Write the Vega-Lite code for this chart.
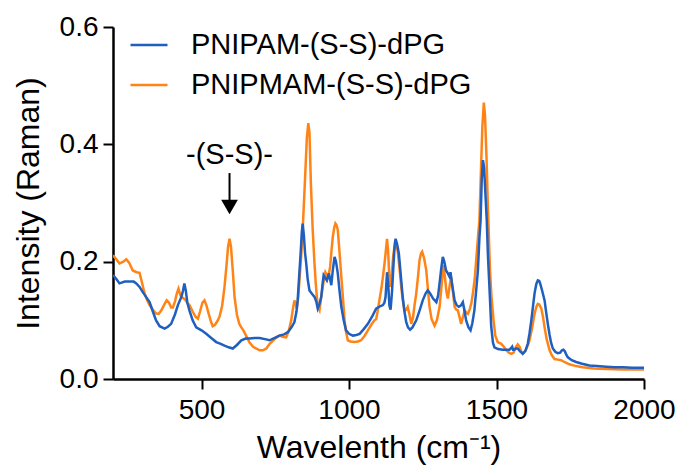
{
  "$schema": "https://vega.github.io/schema/vega-lite/v6.json",
  "width": 531,
  "height": 352,
  "autosize": {"type": "none"},
  "padding": {"left": 113, "top": 27, "right": 37, "bottom": 95},
  "background": "white",
  "config": {
    "view": {"stroke": null},
    "font": "Liberation Sans",
    "axis": {
      "grid": false,
      "domainColor": "black",
      "domainWidth": 2.5,
      "tickColor": "black",
      "tickWidth": 2,
      "tickSize": 10,
      "labelColor": "black",
      "titleColor": "black",
      "labelFont": "Liberation Sans",
      "titleFont": "Liberation Sans",
      "labelFontSize": 28,
      "titleFontSize": 32,
      "titleFontWeight": "normal",
      "labelFlush": false
    },
    "legend": {
      "labelFont": "Liberation Sans",
      "labelFontSize": 29,
      "labelColor": "black",
      "labelLimit": 0
    }
  },
  "datasets": {
    "spectra": [
      {"series": "PNIPMAM-(S-S)-dPG", "wavenumber": 200, "intensity": 0.211},
      {"series": "PNIPMAM-(S-S)-dPG", "wavenumber": 210, "intensity": 0.205},
      {"series": "PNIPMAM-(S-S)-dPG", "wavenumber": 222, "intensity": 0.197},
      {"series": "PNIPMAM-(S-S)-dPG", "wavenumber": 235, "intensity": 0.2},
      {"series": "PNIPMAM-(S-S)-dPG", "wavenumber": 245, "intensity": 0.204},
      {"series": "PNIPMAM-(S-S)-dPG", "wavenumber": 255, "intensity": 0.198},
      {"series": "PNIPMAM-(S-S)-dPG", "wavenumber": 267, "intensity": 0.185},
      {"series": "PNIPMAM-(S-S)-dPG", "wavenumber": 280, "intensity": 0.182},
      {"series": "PNIPMAM-(S-S)-dPG", "wavenumber": 290, "intensity": 0.181},
      {"series": "PNIPMAM-(S-S)-dPG", "wavenumber": 298, "intensity": 0.165},
      {"series": "PNIPMAM-(S-S)-dPG", "wavenumber": 307, "intensity": 0.146},
      {"series": "PNIPMAM-(S-S)-dPG", "wavenumber": 315, "intensity": 0.135},
      {"series": "PNIPMAM-(S-S)-dPG", "wavenumber": 324, "intensity": 0.126},
      {"series": "PNIPMAM-(S-S)-dPG", "wavenumber": 335, "intensity": 0.118},
      {"series": "PNIPMAM-(S-S)-dPG", "wavenumber": 345, "intensity": 0.112},
      {"series": "PNIPMAM-(S-S)-dPG", "wavenumber": 355, "intensity": 0.111},
      {"series": "PNIPMAM-(S-S)-dPG", "wavenumber": 365, "intensity": 0.118},
      {"series": "PNIPMAM-(S-S)-dPG", "wavenumber": 375, "intensity": 0.128},
      {"series": "PNIPMAM-(S-S)-dPG", "wavenumber": 382, "intensity": 0.134},
      {"series": "PNIPMAM-(S-S)-dPG", "wavenumber": 390, "intensity": 0.13},
      {"series": "PNIPMAM-(S-S)-dPG", "wavenumber": 397, "intensity": 0.122},
      {"series": "PNIPMAM-(S-S)-dPG", "wavenumber": 403, "intensity": 0.122},
      {"series": "PNIPMAM-(S-S)-dPG", "wavenumber": 410, "intensity": 0.132},
      {"series": "PNIPMAM-(S-S)-dPG", "wavenumber": 416, "intensity": 0.145},
      {"series": "PNIPMAM-(S-S)-dPG", "wavenumber": 422, "intensity": 0.154},
      {"series": "PNIPMAM-(S-S)-dPG", "wavenumber": 427, "intensity": 0.145},
      {"series": "PNIPMAM-(S-S)-dPG", "wavenumber": 431, "intensity": 0.14},
      {"series": "PNIPMAM-(S-S)-dPG", "wavenumber": 438, "intensity": 0.138},
      {"series": "PNIPMAM-(S-S)-dPG", "wavenumber": 445, "intensity": 0.135},
      {"series": "PNIPMAM-(S-S)-dPG", "wavenumber": 452, "intensity": 0.13},
      {"series": "PNIPMAM-(S-S)-dPG", "wavenumber": 459, "intensity": 0.126},
      {"series": "PNIPMAM-(S-S)-dPG", "wavenumber": 470, "intensity": 0.115},
      {"series": "PNIPMAM-(S-S)-dPG", "wavenumber": 480, "intensity": 0.106},
      {"series": "PNIPMAM-(S-S)-dPG", "wavenumber": 488, "intensity": 0.103},
      {"series": "PNIPMAM-(S-S)-dPG", "wavenumber": 495, "intensity": 0.115},
      {"series": "PNIPMAM-(S-S)-dPG", "wavenumber": 503, "intensity": 0.13},
      {"series": "PNIPMAM-(S-S)-dPG", "wavenumber": 510, "intensity": 0.134},
      {"series": "PNIPMAM-(S-S)-dPG", "wavenumber": 517, "intensity": 0.125},
      {"series": "PNIPMAM-(S-S)-dPG", "wavenumber": 525, "intensity": 0.11},
      {"series": "PNIPMAM-(S-S)-dPG", "wavenumber": 532, "intensity": 0.098},
      {"series": "PNIPMAM-(S-S)-dPG", "wavenumber": 538, "intensity": 0.09},
      {"series": "PNIPMAM-(S-S)-dPG", "wavenumber": 545, "intensity": 0.092},
      {"series": "PNIPMAM-(S-S)-dPG", "wavenumber": 553, "intensity": 0.098},
      {"series": "PNIPMAM-(S-S)-dPG", "wavenumber": 561, "intensity": 0.106},
      {"series": "PNIPMAM-(S-S)-dPG", "wavenumber": 570, "intensity": 0.125},
      {"series": "PNIPMAM-(S-S)-dPG", "wavenumber": 578, "intensity": 0.157},
      {"series": "PNIPMAM-(S-S)-dPG", "wavenumber": 585, "intensity": 0.195},
      {"series": "PNIPMAM-(S-S)-dPG", "wavenumber": 590, "intensity": 0.225},
      {"series": "PNIPMAM-(S-S)-dPG", "wavenumber": 595, "intensity": 0.239},
      {"series": "PNIPMAM-(S-S)-dPG", "wavenumber": 600, "intensity": 0.225},
      {"series": "PNIPMAM-(S-S)-dPG", "wavenumber": 606, "intensity": 0.185},
      {"series": "PNIPMAM-(S-S)-dPG", "wavenumber": 612, "intensity": 0.14},
      {"series": "PNIPMAM-(S-S)-dPG", "wavenumber": 620, "intensity": 0.11},
      {"series": "PNIPMAM-(S-S)-dPG", "wavenumber": 628, "intensity": 0.094},
      {"series": "PNIPMAM-(S-S)-dPG", "wavenumber": 635, "intensity": 0.088},
      {"series": "PNIPMAM-(S-S)-dPG", "wavenumber": 643, "intensity": 0.082},
      {"series": "PNIPMAM-(S-S)-dPG", "wavenumber": 651, "intensity": 0.074},
      {"series": "PNIPMAM-(S-S)-dPG", "wavenumber": 663, "intensity": 0.062},
      {"series": "PNIPMAM-(S-S)-dPG", "wavenumber": 675, "intensity": 0.055},
      {"series": "PNIPMAM-(S-S)-dPG", "wavenumber": 685, "intensity": 0.052},
      {"series": "PNIPMAM-(S-S)-dPG", "wavenumber": 697, "intensity": 0.049},
      {"series": "PNIPMAM-(S-S)-dPG", "wavenumber": 708, "intensity": 0.049},
      {"series": "PNIPMAM-(S-S)-dPG", "wavenumber": 720, "intensity": 0.052},
      {"series": "PNIPMAM-(S-S)-dPG", "wavenumber": 731, "intensity": 0.06},
      {"series": "PNIPMAM-(S-S)-dPG", "wavenumber": 748, "intensity": 0.068},
      {"series": "PNIPMAM-(S-S)-dPG", "wavenumber": 764, "intensity": 0.074},
      {"series": "PNIPMAM-(S-S)-dPG", "wavenumber": 775, "intensity": 0.072},
      {"series": "PNIPMAM-(S-S)-dPG", "wavenumber": 787, "intensity": 0.071},
      {"series": "PNIPMAM-(S-S)-dPG", "wavenumber": 796, "intensity": 0.082},
      {"series": "PNIPMAM-(S-S)-dPG", "wavenumber": 804, "intensity": 0.1},
      {"series": "PNIPMAM-(S-S)-dPG", "wavenumber": 810, "intensity": 0.12},
      {"series": "PNIPMAM-(S-S)-dPG", "wavenumber": 815, "intensity": 0.134},
      {"series": "PNIPMAM-(S-S)-dPG", "wavenumber": 819, "intensity": 0.128},
      {"series": "PNIPMAM-(S-S)-dPG", "wavenumber": 823, "intensity": 0.12},
      {"series": "PNIPMAM-(S-S)-dPG", "wavenumber": 828, "intensity": 0.14},
      {"series": "PNIPMAM-(S-S)-dPG", "wavenumber": 832, "intensity": 0.168},
      {"series": "PNIPMAM-(S-S)-dPG", "wavenumber": 838, "intensity": 0.21},
      {"series": "PNIPMAM-(S-S)-dPG", "wavenumber": 843, "intensity": 0.254},
      {"series": "PNIPMAM-(S-S)-dPG", "wavenumber": 850, "intensity": 0.33},
      {"series": "PNIPMAM-(S-S)-dPG", "wavenumber": 857, "intensity": 0.41},
      {"series": "PNIPMAM-(S-S)-dPG", "wavenumber": 862, "intensity": 0.436},
      {"series": "PNIPMAM-(S-S)-dPG", "wavenumber": 866, "intensity": 0.42},
      {"series": "PNIPMAM-(S-S)-dPG", "wavenumber": 871, "intensity": 0.33},
      {"series": "PNIPMAM-(S-S)-dPG", "wavenumber": 877, "intensity": 0.254},
      {"series": "PNIPMAM-(S-S)-dPG", "wavenumber": 883, "intensity": 0.197},
      {"series": "PNIPMAM-(S-S)-dPG", "wavenumber": 887, "intensity": 0.165},
      {"series": "PNIPMAM-(S-S)-dPG", "wavenumber": 891, "intensity": 0.14},
      {"series": "PNIPMAM-(S-S)-dPG", "wavenumber": 895, "intensity": 0.122},
      {"series": "PNIPMAM-(S-S)-dPG", "wavenumber": 900, "intensity": 0.117},
      {"series": "PNIPMAM-(S-S)-dPG", "wavenumber": 906, "intensity": 0.14},
      {"series": "PNIPMAM-(S-S)-dPG", "wavenumber": 911, "intensity": 0.157},
      {"series": "PNIPMAM-(S-S)-dPG", "wavenumber": 916, "intensity": 0.172},
      {"series": "PNIPMAM-(S-S)-dPG", "wavenumber": 920, "intensity": 0.182},
      {"series": "PNIPMAM-(S-S)-dPG", "wavenumber": 924, "intensity": 0.178},
      {"series": "PNIPMAM-(S-S)-dPG", "wavenumber": 928, "intensity": 0.174},
      {"series": "PNIPMAM-(S-S)-dPG", "wavenumber": 932, "intensity": 0.18},
      {"series": "PNIPMAM-(S-S)-dPG", "wavenumber": 936, "intensity": 0.191},
      {"series": "PNIPMAM-(S-S)-dPG", "wavenumber": 940, "intensity": 0.215},
      {"series": "PNIPMAM-(S-S)-dPG", "wavenumber": 945, "intensity": 0.242},
      {"series": "PNIPMAM-(S-S)-dPG", "wavenumber": 950, "intensity": 0.258},
      {"series": "PNIPMAM-(S-S)-dPG", "wavenumber": 954, "intensity": 0.265},
      {"series": "PNIPMAM-(S-S)-dPG", "wavenumber": 958, "intensity": 0.262},
      {"series": "PNIPMAM-(S-S)-dPG", "wavenumber": 962, "intensity": 0.254},
      {"series": "PNIPMAM-(S-S)-dPG", "wavenumber": 968, "intensity": 0.215},
      {"series": "PNIPMAM-(S-S)-dPG", "wavenumber": 974, "intensity": 0.174},
      {"series": "PNIPMAM-(S-S)-dPG", "wavenumber": 980, "intensity": 0.135},
      {"series": "PNIPMAM-(S-S)-dPG", "wavenumber": 985, "intensity": 0.1},
      {"series": "PNIPMAM-(S-S)-dPG", "wavenumber": 990, "intensity": 0.08},
      {"series": "PNIPMAM-(S-S)-dPG", "wavenumber": 996, "intensity": 0.066},
      {"series": "PNIPMAM-(S-S)-dPG", "wavenumber": 1005, "intensity": 0.064},
      {"series": "PNIPMAM-(S-S)-dPG", "wavenumber": 1019, "intensity": 0.063},
      {"series": "PNIPMAM-(S-S)-dPG", "wavenumber": 1030, "intensity": 0.064},
      {"series": "PNIPMAM-(S-S)-dPG", "wavenumber": 1041, "intensity": 0.066},
      {"series": "PNIPMAM-(S-S)-dPG", "wavenumber": 1052, "intensity": 0.073},
      {"series": "PNIPMAM-(S-S)-dPG", "wavenumber": 1064, "intensity": 0.083},
      {"series": "PNIPMAM-(S-S)-dPG", "wavenumber": 1075, "intensity": 0.092},
      {"series": "PNIPMAM-(S-S)-dPG", "wavenumber": 1086, "intensity": 0.1},
      {"series": "PNIPMAM-(S-S)-dPG", "wavenumber": 1092, "intensity": 0.102},
      {"series": "PNIPMAM-(S-S)-dPG", "wavenumber": 1097, "intensity": 0.115},
      {"series": "PNIPMAM-(S-S)-dPG", "wavenumber": 1103, "intensity": 0.134},
      {"series": "PNIPMAM-(S-S)-dPG", "wavenumber": 1110, "intensity": 0.155},
      {"series": "PNIPMAM-(S-S)-dPG", "wavenumber": 1115, "intensity": 0.174},
      {"series": "PNIPMAM-(S-S)-dPG", "wavenumber": 1120, "intensity": 0.195},
      {"series": "PNIPMAM-(S-S)-dPG", "wavenumber": 1124, "intensity": 0.214},
      {"series": "PNIPMAM-(S-S)-dPG", "wavenumber": 1129, "intensity": 0.239},
      {"series": "PNIPMAM-(S-S)-dPG", "wavenumber": 1133, "intensity": 0.215},
      {"series": "PNIPMAM-(S-S)-dPG", "wavenumber": 1136, "intensity": 0.18},
      {"series": "PNIPMAM-(S-S)-dPG", "wavenumber": 1140, "intensity": 0.157},
      {"series": "PNIPMAM-(S-S)-dPG", "wavenumber": 1145, "intensity": 0.18},
      {"series": "PNIPMAM-(S-S)-dPG", "wavenumber": 1150, "intensity": 0.21},
      {"series": "PNIPMAM-(S-S)-dPG", "wavenumber": 1154, "intensity": 0.225},
      {"series": "PNIPMAM-(S-S)-dPG", "wavenumber": 1160, "intensity": 0.225},
      {"series": "PNIPMAM-(S-S)-dPG", "wavenumber": 1165, "intensity": 0.219},
      {"series": "PNIPMAM-(S-S)-dPG", "wavenumber": 1171, "intensity": 0.19},
      {"series": "PNIPMAM-(S-S)-dPG", "wavenumber": 1177, "intensity": 0.157},
      {"series": "PNIPMAM-(S-S)-dPG", "wavenumber": 1183, "intensity": 0.132},
      {"series": "PNIPMAM-(S-S)-dPG", "wavenumber": 1188, "intensity": 0.117},
      {"series": "PNIPMAM-(S-S)-dPG", "wavenumber": 1194, "intensity": 0.118},
      {"series": "PNIPMAM-(S-S)-dPG", "wavenumber": 1199, "intensity": 0.123},
      {"series": "PNIPMAM-(S-S)-dPG", "wavenumber": 1205, "intensity": 0.11},
      {"series": "PNIPMAM-(S-S)-dPG", "wavenumber": 1211, "intensity": 0.094},
      {"series": "PNIPMAM-(S-S)-dPG", "wavenumber": 1217, "intensity": 0.105},
      {"series": "PNIPMAM-(S-S)-dPG", "wavenumber": 1222, "intensity": 0.125},
      {"series": "PNIPMAM-(S-S)-dPG", "wavenumber": 1228, "intensity": 0.146},
      {"series": "PNIPMAM-(S-S)-dPG", "wavenumber": 1234, "intensity": 0.175},
      {"series": "PNIPMAM-(S-S)-dPG", "wavenumber": 1239, "intensity": 0.202},
      {"series": "PNIPMAM-(S-S)-dPG", "wavenumber": 1244, "intensity": 0.214},
      {"series": "PNIPMAM-(S-S)-dPG", "wavenumber": 1248, "intensity": 0.217},
      {"series": "PNIPMAM-(S-S)-dPG", "wavenumber": 1255, "intensity": 0.205},
      {"series": "PNIPMAM-(S-S)-dPG", "wavenumber": 1262, "intensity": 0.185},
      {"series": "PNIPMAM-(S-S)-dPG", "wavenumber": 1268, "intensity": 0.15},
      {"series": "PNIPMAM-(S-S)-dPG", "wavenumber": 1273, "intensity": 0.123},
      {"series": "PNIPMAM-(S-S)-dPG", "wavenumber": 1280, "intensity": 0.102},
      {"series": "PNIPMAM-(S-S)-dPG", "wavenumber": 1290, "intensity": 0.091},
      {"series": "PNIPMAM-(S-S)-dPG", "wavenumber": 1298, "intensity": 0.1},
      {"series": "PNIPMAM-(S-S)-dPG", "wavenumber": 1307, "intensity": 0.123},
      {"series": "PNIPMAM-(S-S)-dPG", "wavenumber": 1314, "intensity": 0.16},
      {"series": "PNIPMAM-(S-S)-dPG", "wavenumber": 1320, "intensity": 0.194},
      {"series": "PNIPMAM-(S-S)-dPG", "wavenumber": 1325, "intensity": 0.175},
      {"series": "PNIPMAM-(S-S)-dPG", "wavenumber": 1330, "intensity": 0.15},
      {"series": "PNIPMAM-(S-S)-dPG", "wavenumber": 1335, "intensity": 0.137},
      {"series": "PNIPMAM-(S-S)-dPG", "wavenumber": 1340, "intensity": 0.155},
      {"series": "PNIPMAM-(S-S)-dPG", "wavenumber": 1346, "intensity": 0.174},
      {"series": "PNIPMAM-(S-S)-dPG", "wavenumber": 1352, "intensity": 0.15},
      {"series": "PNIPMAM-(S-S)-dPG", "wavenumber": 1358, "intensity": 0.123},
      {"series": "PNIPMAM-(S-S)-dPG", "wavenumber": 1364, "intensity": 0.118},
      {"series": "PNIPMAM-(S-S)-dPG", "wavenumber": 1369, "intensity": 0.117},
      {"series": "PNIPMAM-(S-S)-dPG", "wavenumber": 1375, "intensity": 0.105},
      {"series": "PNIPMAM-(S-S)-dPG", "wavenumber": 1380, "intensity": 0.094},
      {"series": "PNIPMAM-(S-S)-dPG", "wavenumber": 1386, "intensity": 0.105},
      {"series": "PNIPMAM-(S-S)-dPG", "wavenumber": 1392, "intensity": 0.117},
      {"series": "PNIPMAM-(S-S)-dPG", "wavenumber": 1398, "intensity": 0.113},
      {"series": "PNIPMAM-(S-S)-dPG", "wavenumber": 1403, "intensity": 0.111},
      {"series": "PNIPMAM-(S-S)-dPG", "wavenumber": 1410, "intensity": 0.12},
      {"series": "PNIPMAM-(S-S)-dPG", "wavenumber": 1415, "intensity": 0.13},
      {"series": "PNIPMAM-(S-S)-dPG", "wavenumber": 1420, "intensity": 0.146},
      {"series": "PNIPMAM-(S-S)-dPG", "wavenumber": 1426, "intensity": 0.17},
      {"series": "PNIPMAM-(S-S)-dPG", "wavenumber": 1431, "intensity": 0.202},
      {"series": "PNIPMAM-(S-S)-dPG", "wavenumber": 1437, "intensity": 0.24},
      {"series": "PNIPMAM-(S-S)-dPG", "wavenumber": 1442, "intensity": 0.27},
      {"series": "PNIPMAM-(S-S)-dPG", "wavenumber": 1447, "intensity": 0.35},
      {"series": "PNIPMAM-(S-S)-dPG", "wavenumber": 1452, "intensity": 0.43},
      {"series": "PNIPMAM-(S-S)-dPG", "wavenumber": 1457, "intensity": 0.471},
      {"series": "PNIPMAM-(S-S)-dPG", "wavenumber": 1461, "intensity": 0.45},
      {"series": "PNIPMAM-(S-S)-dPG", "wavenumber": 1466, "intensity": 0.38},
      {"series": "PNIPMAM-(S-S)-dPG", "wavenumber": 1471, "intensity": 0.29},
      {"series": "PNIPMAM-(S-S)-dPG", "wavenumber": 1478, "intensity": 0.185},
      {"series": "PNIPMAM-(S-S)-dPG", "wavenumber": 1483, "intensity": 0.14},
      {"series": "PNIPMAM-(S-S)-dPG", "wavenumber": 1490, "intensity": 0.1},
      {"series": "PNIPMAM-(S-S)-dPG", "wavenumber": 1496, "intensity": 0.074},
      {"series": "PNIPMAM-(S-S)-dPG", "wavenumber": 1504, "intensity": 0.063},
      {"series": "PNIPMAM-(S-S)-dPG", "wavenumber": 1516, "intensity": 0.06},
      {"series": "PNIPMAM-(S-S)-dPG", "wavenumber": 1525, "intensity": 0.055},
      {"series": "PNIPMAM-(S-S)-dPG", "wavenumber": 1533, "intensity": 0.049},
      {"series": "PNIPMAM-(S-S)-dPG", "wavenumber": 1542, "intensity": 0.045},
      {"series": "PNIPMAM-(S-S)-dPG", "wavenumber": 1550, "intensity": 0.043},
      {"series": "PNIPMAM-(S-S)-dPG", "wavenumber": 1558, "intensity": 0.045},
      {"series": "PNIPMAM-(S-S)-dPG", "wavenumber": 1565, "intensity": 0.054},
      {"series": "PNIPMAM-(S-S)-dPG", "wavenumber": 1572, "intensity": 0.059},
      {"series": "PNIPMAM-(S-S)-dPG", "wavenumber": 1578, "intensity": 0.055},
      {"series": "PNIPMAM-(S-S)-dPG", "wavenumber": 1584, "intensity": 0.047},
      {"series": "PNIPMAM-(S-S)-dPG", "wavenumber": 1589, "intensity": 0.043},
      {"series": "PNIPMAM-(S-S)-dPG", "wavenumber": 1598, "intensity": 0.048},
      {"series": "PNIPMAM-(S-S)-dPG", "wavenumber": 1606, "intensity": 0.057},
      {"series": "PNIPMAM-(S-S)-dPG", "wavenumber": 1612, "intensity": 0.066},
      {"series": "PNIPMAM-(S-S)-dPG", "wavenumber": 1620, "intensity": 0.085},
      {"series": "PNIPMAM-(S-S)-dPG", "wavenumber": 1629, "intensity": 0.111},
      {"series": "PNIPMAM-(S-S)-dPG", "wavenumber": 1635, "intensity": 0.123},
      {"series": "PNIPMAM-(S-S)-dPG", "wavenumber": 1640, "intensity": 0.128},
      {"series": "PNIPMAM-(S-S)-dPG", "wavenumber": 1645, "intensity": 0.127},
      {"series": "PNIPMAM-(S-S)-dPG", "wavenumber": 1652, "intensity": 0.12},
      {"series": "PNIPMAM-(S-S)-dPG", "wavenumber": 1658, "intensity": 0.105},
      {"series": "PNIPMAM-(S-S)-dPG", "wavenumber": 1663, "intensity": 0.088},
      {"series": "PNIPMAM-(S-S)-dPG", "wavenumber": 1670, "intensity": 0.068},
      {"series": "PNIPMAM-(S-S)-dPG", "wavenumber": 1680, "intensity": 0.049},
      {"series": "PNIPMAM-(S-S)-dPG", "wavenumber": 1688, "intensity": 0.04},
      {"series": "PNIPMAM-(S-S)-dPG", "wavenumber": 1697, "intensity": 0.034},
      {"series": "PNIPMAM-(S-S)-dPG", "wavenumber": 1708, "intensity": 0.033},
      {"series": "PNIPMAM-(S-S)-dPG", "wavenumber": 1719, "intensity": 0.032},
      {"series": "PNIPMAM-(S-S)-dPG", "wavenumber": 1730, "intensity": 0.029},
      {"series": "PNIPMAM-(S-S)-dPG", "wavenumber": 1747, "intensity": 0.025},
      {"series": "PNIPMAM-(S-S)-dPG", "wavenumber": 1770, "intensity": 0.022},
      {"series": "PNIPMAM-(S-S)-dPG", "wavenumber": 1792, "intensity": 0.02},
      {"series": "PNIPMAM-(S-S)-dPG", "wavenumber": 1830, "intensity": 0.018},
      {"series": "PNIPMAM-(S-S)-dPG", "wavenumber": 1872, "intensity": 0.017},
      {"series": "PNIPMAM-(S-S)-dPG", "wavenumber": 1930, "intensity": 0.016},
      {"series": "PNIPMAM-(S-S)-dPG", "wavenumber": 2000, "intensity": 0.016},
      {"series": "PNIPAM-(S-S)-dPG", "wavenumber": 200, "intensity": 0.177},
      {"series": "PNIPAM-(S-S)-dPG", "wavenumber": 212, "intensity": 0.17},
      {"series": "PNIPAM-(S-S)-dPG", "wavenumber": 222, "intensity": 0.163},
      {"series": "PNIPAM-(S-S)-dPG", "wavenumber": 240, "intensity": 0.166},
      {"series": "PNIPAM-(S-S)-dPG", "wavenumber": 256, "intensity": 0.166},
      {"series": "PNIPAM-(S-S)-dPG", "wavenumber": 270, "intensity": 0.166},
      {"series": "PNIPAM-(S-S)-dPG", "wavenumber": 279, "intensity": 0.163},
      {"series": "PNIPAM-(S-S)-dPG", "wavenumber": 290, "intensity": 0.157},
      {"series": "PNIPAM-(S-S)-dPG", "wavenumber": 301, "intensity": 0.148},
      {"series": "PNIPAM-(S-S)-dPG", "wavenumber": 312, "intensity": 0.14},
      {"series": "PNIPAM-(S-S)-dPG", "wavenumber": 324, "intensity": 0.131},
      {"series": "PNIPAM-(S-S)-dPG", "wavenumber": 335, "intensity": 0.115},
      {"series": "PNIPAM-(S-S)-dPG", "wavenumber": 346, "intensity": 0.1},
      {"series": "PNIPAM-(S-S)-dPG", "wavenumber": 358, "intensity": 0.09},
      {"series": "PNIPAM-(S-S)-dPG", "wavenumber": 375, "intensity": 0.086},
      {"series": "PNIPAM-(S-S)-dPG", "wavenumber": 386, "intensity": 0.089},
      {"series": "PNIPAM-(S-S)-dPG", "wavenumber": 397, "intensity": 0.094},
      {"series": "PNIPAM-(S-S)-dPG", "wavenumber": 410, "intensity": 0.11},
      {"series": "PNIPAM-(S-S)-dPG", "wavenumber": 420, "intensity": 0.126},
      {"series": "PNIPAM-(S-S)-dPG", "wavenumber": 432, "intensity": 0.14},
      {"series": "PNIPAM-(S-S)-dPG", "wavenumber": 437, "intensity": 0.15},
      {"series": "PNIPAM-(S-S)-dPG", "wavenumber": 442, "intensity": 0.163},
      {"series": "PNIPAM-(S-S)-dPG", "wavenumber": 447, "intensity": 0.15},
      {"series": "PNIPAM-(S-S)-dPG", "wavenumber": 452, "intensity": 0.13},
      {"series": "PNIPAM-(S-S)-dPG", "wavenumber": 459, "intensity": 0.117},
      {"series": "PNIPAM-(S-S)-dPG", "wavenumber": 470, "intensity": 0.1},
      {"series": "PNIPAM-(S-S)-dPG", "wavenumber": 482, "intensity": 0.088},
      {"series": "PNIPAM-(S-S)-dPG", "wavenumber": 500, "intensity": 0.083},
      {"series": "PNIPAM-(S-S)-dPG", "wavenumber": 516, "intensity": 0.077},
      {"series": "PNIPAM-(S-S)-dPG", "wavenumber": 533, "intensity": 0.07},
      {"series": "PNIPAM-(S-S)-dPG", "wavenumber": 550, "intensity": 0.063},
      {"series": "PNIPAM-(S-S)-dPG", "wavenumber": 565, "intensity": 0.06},
      {"series": "PNIPAM-(S-S)-dPG", "wavenumber": 578, "intensity": 0.057},
      {"series": "PNIPAM-(S-S)-dPG", "wavenumber": 592, "intensity": 0.054},
      {"series": "PNIPAM-(S-S)-dPG", "wavenumber": 606, "intensity": 0.052},
      {"series": "PNIPAM-(S-S)-dPG", "wavenumber": 620, "intensity": 0.058},
      {"series": "PNIPAM-(S-S)-dPG", "wavenumber": 635, "intensity": 0.066},
      {"series": "PNIPAM-(S-S)-dPG", "wavenumber": 650, "intensity": 0.069},
      {"series": "PNIPAM-(S-S)-dPG", "wavenumber": 663, "intensity": 0.069},
      {"series": "PNIPAM-(S-S)-dPG", "wavenumber": 680, "intensity": 0.07},
      {"series": "PNIPAM-(S-S)-dPG", "wavenumber": 697, "intensity": 0.07},
      {"series": "PNIPAM-(S-S)-dPG", "wavenumber": 715, "intensity": 0.068},
      {"series": "PNIPAM-(S-S)-dPG", "wavenumber": 731, "intensity": 0.066},
      {"series": "PNIPAM-(S-S)-dPG", "wavenumber": 748, "intensity": 0.07},
      {"series": "PNIPAM-(S-S)-dPG", "wavenumber": 764, "intensity": 0.074},
      {"series": "PNIPAM-(S-S)-dPG", "wavenumber": 780, "intensity": 0.076},
      {"series": "PNIPAM-(S-S)-dPG", "wavenumber": 793, "intensity": 0.08},
      {"series": "PNIPAM-(S-S)-dPG", "wavenumber": 805, "intensity": 0.088},
      {"series": "PNIPAM-(S-S)-dPG", "wavenumber": 815, "intensity": 0.097},
      {"series": "PNIPAM-(S-S)-dPG", "wavenumber": 822, "intensity": 0.115},
      {"series": "PNIPAM-(S-S)-dPG", "wavenumber": 826, "intensity": 0.134},
      {"series": "PNIPAM-(S-S)-dPG", "wavenumber": 831, "intensity": 0.175},
      {"series": "PNIPAM-(S-S)-dPG", "wavenumber": 836, "intensity": 0.214},
      {"series": "PNIPAM-(S-S)-dPG", "wavenumber": 840, "intensity": 0.25},
      {"series": "PNIPAM-(S-S)-dPG", "wavenumber": 843, "intensity": 0.265},
      {"series": "PNIPAM-(S-S)-dPG", "wavenumber": 847, "intensity": 0.245},
      {"series": "PNIPAM-(S-S)-dPG", "wavenumber": 851, "intensity": 0.215},
      {"series": "PNIPAM-(S-S)-dPG", "wavenumber": 855, "intensity": 0.197},
      {"series": "PNIPAM-(S-S)-dPG", "wavenumber": 860, "intensity": 0.17},
      {"series": "PNIPAM-(S-S)-dPG", "wavenumber": 866, "intensity": 0.151},
      {"series": "PNIPAM-(S-S)-dPG", "wavenumber": 875, "intensity": 0.145},
      {"series": "PNIPAM-(S-S)-dPG", "wavenumber": 883, "intensity": 0.14},
      {"series": "PNIPAM-(S-S)-dPG", "wavenumber": 889, "intensity": 0.132},
      {"series": "PNIPAM-(S-S)-dPG", "wavenumber": 894, "intensity": 0.12},
      {"series": "PNIPAM-(S-S)-dPG", "wavenumber": 900, "intensity": 0.128},
      {"series": "PNIPAM-(S-S)-dPG", "wavenumber": 906, "intensity": 0.14},
      {"series": "PNIPAM-(S-S)-dPG", "wavenumber": 910, "intensity": 0.16},
      {"series": "PNIPAM-(S-S)-dPG", "wavenumber": 914, "intensity": 0.177},
      {"series": "PNIPAM-(S-S)-dPG", "wavenumber": 920, "intensity": 0.172},
      {"series": "PNIPAM-(S-S)-dPG", "wavenumber": 925, "intensity": 0.168},
      {"series": "PNIPAM-(S-S)-dPG", "wavenumber": 932, "intensity": 0.18},
      {"series": "PNIPAM-(S-S)-dPG", "wavenumber": 936, "intensity": 0.17},
      {"series": "PNIPAM-(S-S)-dPG", "wavenumber": 940, "intensity": 0.16},
      {"series": "PNIPAM-(S-S)-dPG", "wavenumber": 945, "intensity": 0.185},
      {"series": "PNIPAM-(S-S)-dPG", "wavenumber": 951, "intensity": 0.208},
      {"series": "PNIPAM-(S-S)-dPG", "wavenumber": 956, "intensity": 0.2},
      {"series": "PNIPAM-(S-S)-dPG", "wavenumber": 962, "intensity": 0.18},
      {"series": "PNIPAM-(S-S)-dPG", "wavenumber": 968, "intensity": 0.15},
      {"series": "PNIPAM-(S-S)-dPG", "wavenumber": 974, "intensity": 0.123},
      {"series": "PNIPAM-(S-S)-dPG", "wavenumber": 982, "intensity": 0.1},
      {"series": "PNIPAM-(S-S)-dPG", "wavenumber": 990, "intensity": 0.083},
      {"series": "PNIPAM-(S-S)-dPG", "wavenumber": 1000, "intensity": 0.077},
      {"series": "PNIPAM-(S-S)-dPG", "wavenumber": 1013, "intensity": 0.074},
      {"series": "PNIPAM-(S-S)-dPG", "wavenumber": 1025, "intensity": 0.075},
      {"series": "PNIPAM-(S-S)-dPG", "wavenumber": 1036, "intensity": 0.077},
      {"series": "PNIPAM-(S-S)-dPG", "wavenumber": 1050, "intensity": 0.085},
      {"series": "PNIPAM-(S-S)-dPG", "wavenumber": 1064, "intensity": 0.094},
      {"series": "PNIPAM-(S-S)-dPG", "wavenumber": 1080, "intensity": 0.108},
      {"series": "PNIPAM-(S-S)-dPG", "wavenumber": 1092, "intensity": 0.12},
      {"series": "PNIPAM-(S-S)-dPG", "wavenumber": 1105, "intensity": 0.124},
      {"series": "PNIPAM-(S-S)-dPG", "wavenumber": 1115, "intensity": 0.126},
      {"series": "PNIPAM-(S-S)-dPG", "wavenumber": 1120, "intensity": 0.13},
      {"series": "PNIPAM-(S-S)-dPG", "wavenumber": 1124, "intensity": 0.14},
      {"series": "PNIPAM-(S-S)-dPG", "wavenumber": 1129, "intensity": 0.182},
      {"series": "PNIPAM-(S-S)-dPG", "wavenumber": 1133, "intensity": 0.16},
      {"series": "PNIPAM-(S-S)-dPG", "wavenumber": 1137, "intensity": 0.125},
      {"series": "PNIPAM-(S-S)-dPG", "wavenumber": 1141, "intensity": 0.118},
      {"series": "PNIPAM-(S-S)-dPG", "wavenumber": 1146, "intensity": 0.15},
      {"series": "PNIPAM-(S-S)-dPG", "wavenumber": 1151, "intensity": 0.197},
      {"series": "PNIPAM-(S-S)-dPG", "wavenumber": 1155, "intensity": 0.23},
      {"series": "PNIPAM-(S-S)-dPG", "wavenumber": 1158, "intensity": 0.239},
      {"series": "PNIPAM-(S-S)-dPG", "wavenumber": 1163, "intensity": 0.23},
      {"series": "PNIPAM-(S-S)-dPG", "wavenumber": 1169, "intensity": 0.214},
      {"series": "PNIPAM-(S-S)-dPG", "wavenumber": 1175, "intensity": 0.18},
      {"series": "PNIPAM-(S-S)-dPG", "wavenumber": 1182, "intensity": 0.14},
      {"series": "PNIPAM-(S-S)-dPG", "wavenumber": 1188, "intensity": 0.115},
      {"series": "PNIPAM-(S-S)-dPG", "wavenumber": 1194, "intensity": 0.097},
      {"series": "PNIPAM-(S-S)-dPG", "wavenumber": 1200, "intensity": 0.088},
      {"series": "PNIPAM-(S-S)-dPG", "wavenumber": 1207, "intensity": 0.084},
      {"series": "PNIPAM-(S-S)-dPG", "wavenumber": 1215, "intensity": 0.088},
      {"series": "PNIPAM-(S-S)-dPG", "wavenumber": 1228, "intensity": 0.1},
      {"series": "PNIPAM-(S-S)-dPG", "wavenumber": 1240, "intensity": 0.118},
      {"series": "PNIPAM-(S-S)-dPG", "wavenumber": 1250, "intensity": 0.134},
      {"series": "PNIPAM-(S-S)-dPG", "wavenumber": 1260, "intensity": 0.146},
      {"series": "PNIPAM-(S-S)-dPG", "wavenumber": 1267, "intensity": 0.151},
      {"series": "PNIPAM-(S-S)-dPG", "wavenumber": 1275, "intensity": 0.146},
      {"series": "PNIPAM-(S-S)-dPG", "wavenumber": 1285, "intensity": 0.137},
      {"series": "PNIPAM-(S-S)-dPG", "wavenumber": 1296, "intensity": 0.131},
      {"series": "PNIPAM-(S-S)-dPG", "wavenumber": 1302, "intensity": 0.142},
      {"series": "PNIPAM-(S-S)-dPG", "wavenumber": 1307, "intensity": 0.163},
      {"series": "PNIPAM-(S-S)-dPG", "wavenumber": 1313, "intensity": 0.19},
      {"series": "PNIPAM-(S-S)-dPG", "wavenumber": 1318, "intensity": 0.208},
      {"series": "PNIPAM-(S-S)-dPG", "wavenumber": 1323, "intensity": 0.2},
      {"series": "PNIPAM-(S-S)-dPG", "wavenumber": 1329, "intensity": 0.185},
      {"series": "PNIPAM-(S-S)-dPG", "wavenumber": 1335, "intensity": 0.18},
      {"series": "PNIPAM-(S-S)-dPG", "wavenumber": 1340, "intensity": 0.175},
      {"series": "PNIPAM-(S-S)-dPG", "wavenumber": 1344, "intensity": 0.182},
      {"series": "PNIPAM-(S-S)-dPG", "wavenumber": 1350, "intensity": 0.16},
      {"series": "PNIPAM-(S-S)-dPG", "wavenumber": 1358, "intensity": 0.134},
      {"series": "PNIPAM-(S-S)-dPG", "wavenumber": 1365, "intensity": 0.126},
      {"series": "PNIPAM-(S-S)-dPG", "wavenumber": 1372, "intensity": 0.123},
      {"series": "PNIPAM-(S-S)-dPG", "wavenumber": 1379, "intensity": 0.125},
      {"series": "PNIPAM-(S-S)-dPG", "wavenumber": 1386, "intensity": 0.131},
      {"series": "PNIPAM-(S-S)-dPG", "wavenumber": 1392, "intensity": 0.115},
      {"series": "PNIPAM-(S-S)-dPG", "wavenumber": 1397, "intensity": 0.1},
      {"series": "PNIPAM-(S-S)-dPG", "wavenumber": 1405, "intensity": 0.088},
      {"series": "PNIPAM-(S-S)-dPG", "wavenumber": 1412, "intensity": 0.083},
      {"series": "PNIPAM-(S-S)-dPG", "wavenumber": 1418, "intensity": 0.095},
      {"series": "PNIPAM-(S-S)-dPG", "wavenumber": 1425, "intensity": 0.117},
      {"series": "PNIPAM-(S-S)-dPG", "wavenumber": 1431, "intensity": 0.15},
      {"series": "PNIPAM-(S-S)-dPG", "wavenumber": 1437, "intensity": 0.185},
      {"series": "PNIPAM-(S-S)-dPG", "wavenumber": 1442, "intensity": 0.24},
      {"series": "PNIPAM-(S-S)-dPG", "wavenumber": 1446, "intensity": 0.27},
      {"series": "PNIPAM-(S-S)-dPG", "wavenumber": 1450, "intensity": 0.34},
      {"series": "PNIPAM-(S-S)-dPG", "wavenumber": 1454, "intensity": 0.373},
      {"series": "PNIPAM-(S-S)-dPG", "wavenumber": 1458, "intensity": 0.36},
      {"series": "PNIPAM-(S-S)-dPG", "wavenumber": 1462, "intensity": 0.32},
      {"series": "PNIPAM-(S-S)-dPG", "wavenumber": 1467, "intensity": 0.27},
      {"series": "PNIPAM-(S-S)-dPG", "wavenumber": 1471, "intensity": 0.21},
      {"series": "PNIPAM-(S-S)-dPG", "wavenumber": 1476, "intensity": 0.157},
      {"series": "PNIPAM-(S-S)-dPG", "wavenumber": 1482, "intensity": 0.09},
      {"series": "PNIPAM-(S-S)-dPG", "wavenumber": 1488, "intensity": 0.062},
      {"series": "PNIPAM-(S-S)-dPG", "wavenumber": 1493, "intensity": 0.054},
      {"series": "PNIPAM-(S-S)-dPG", "wavenumber": 1505, "intensity": 0.051},
      {"series": "PNIPAM-(S-S)-dPG", "wavenumber": 1521, "intensity": 0.05},
      {"series": "PNIPAM-(S-S)-dPG", "wavenumber": 1535, "intensity": 0.05},
      {"series": "PNIPAM-(S-S)-dPG", "wavenumber": 1544, "intensity": 0.05},
      {"series": "PNIPAM-(S-S)-dPG", "wavenumber": 1550, "intensity": 0.053},
      {"series": "PNIPAM-(S-S)-dPG", "wavenumber": 1553, "intensity": 0.055},
      {"series": "PNIPAM-(S-S)-dPG", "wavenumber": 1556, "intensity": 0.05},
      {"series": "PNIPAM-(S-S)-dPG", "wavenumber": 1560, "intensity": 0.05},
      {"series": "PNIPAM-(S-S)-dPG", "wavenumber": 1566, "intensity": 0.052},
      {"series": "PNIPAM-(S-S)-dPG", "wavenumber": 1572, "intensity": 0.052},
      {"series": "PNIPAM-(S-S)-dPG", "wavenumber": 1580, "intensity": 0.047},
      {"series": "PNIPAM-(S-S)-dPG", "wavenumber": 1589, "intensity": 0.043},
      {"series": "PNIPAM-(S-S)-dPG", "wavenumber": 1598, "intensity": 0.048},
      {"series": "PNIPAM-(S-S)-dPG", "wavenumber": 1606, "intensity": 0.06},
      {"series": "PNIPAM-(S-S)-dPG", "wavenumber": 1612, "intensity": 0.078},
      {"series": "PNIPAM-(S-S)-dPG", "wavenumber": 1618, "intensity": 0.1},
      {"series": "PNIPAM-(S-S)-dPG", "wavenumber": 1624, "intensity": 0.125},
      {"series": "PNIPAM-(S-S)-dPG", "wavenumber": 1629, "intensity": 0.146},
      {"series": "PNIPAM-(S-S)-dPG", "wavenumber": 1635, "intensity": 0.162},
      {"series": "PNIPAM-(S-S)-dPG", "wavenumber": 1640, "intensity": 0.168},
      {"series": "PNIPAM-(S-S)-dPG", "wavenumber": 1645, "intensity": 0.167},
      {"series": "PNIPAM-(S-S)-dPG", "wavenumber": 1648, "intensity": 0.163},
      {"series": "PNIPAM-(S-S)-dPG", "wavenumber": 1655, "intensity": 0.15},
      {"series": "PNIPAM-(S-S)-dPG", "wavenumber": 1663, "intensity": 0.134},
      {"series": "PNIPAM-(S-S)-dPG", "wavenumber": 1668, "intensity": 0.115},
      {"series": "PNIPAM-(S-S)-dPG", "wavenumber": 1674, "intensity": 0.094},
      {"series": "PNIPAM-(S-S)-dPG", "wavenumber": 1680, "intensity": 0.075},
      {"series": "PNIPAM-(S-S)-dPG", "wavenumber": 1685, "intensity": 0.062},
      {"series": "PNIPAM-(S-S)-dPG", "wavenumber": 1691, "intensity": 0.052},
      {"series": "PNIPAM-(S-S)-dPG", "wavenumber": 1700, "intensity": 0.046},
      {"series": "PNIPAM-(S-S)-dPG", "wavenumber": 1708, "intensity": 0.044},
      {"series": "PNIPAM-(S-S)-dPG", "wavenumber": 1716, "intensity": 0.045},
      {"series": "PNIPAM-(S-S)-dPG", "wavenumber": 1722, "intensity": 0.049},
      {"series": "PNIPAM-(S-S)-dPG", "wavenumber": 1727, "intensity": 0.05},
      {"series": "PNIPAM-(S-S)-dPG", "wavenumber": 1732, "intensity": 0.047},
      {"series": "PNIPAM-(S-S)-dPG", "wavenumber": 1737, "intensity": 0.041},
      {"series": "PNIPAM-(S-S)-dPG", "wavenumber": 1742, "intensity": 0.037},
      {"series": "PNIPAM-(S-S)-dPG", "wavenumber": 1755, "intensity": 0.032},
      {"series": "PNIPAM-(S-S)-dPG", "wavenumber": 1770, "intensity": 0.029},
      {"series": "PNIPAM-(S-S)-dPG", "wavenumber": 1790, "intensity": 0.026},
      {"series": "PNIPAM-(S-S)-dPG", "wavenumber": 1815, "intensity": 0.023},
      {"series": "PNIPAM-(S-S)-dPG", "wavenumber": 1840, "intensity": 0.022},
      {"series": "PNIPAM-(S-S)-dPG", "wavenumber": 1872, "intensity": 0.021},
      {"series": "PNIPAM-(S-S)-dPG", "wavenumber": 1900, "intensity": 0.02},
      {"series": "PNIPAM-(S-S)-dPG", "wavenumber": 1928, "intensity": 0.02},
      {"series": "PNIPAM-(S-S)-dPG", "wavenumber": 1960, "intensity": 0.019},
      {"series": "PNIPAM-(S-S)-dPG", "wavenumber": 2000, "intensity": 0.019}
    ],
    "annotation": [
      {"label": "-(S-S)-", "wavenumber": 595, "textY": 0.382, "arrowTop": 0.351, "arrowBottom": 0.3, "headY": 0.293}
    ]
  },
  "layer": [
    {
      "data": {"name": "spectra"},
      "transform": [{"filter": "datum.series == 'PNIPMAM-(S-S)-dPG'"}],
      "mark": {"type": "line", "strokeWidth": 2.5, "clip": true},
      "encoding": {
        "x": {
          "field": "wavenumber", "type": "quantitative",
          "scale": {"domain": [200, 2000], "nice": false, "zero": false},
          "axis": {"values": [500, 1000, 1500, 2000], "format": "d", "title": "Wavelenth (cm⁻¹)", "labelPadding": 7, "titlePadding": 8}
        },
        "y": {
          "field": "intensity", "type": "quantitative",
          "scale": {"domain": [0, 0.6], "nice": false},
          "axis": {"values": [0, 0.2, 0.4, 0.6], "format": ".1f", "title": "Intensity (Raman)", "labelPadding": 5, "titlePadding": 14}
        },
        "color": {
          "field": "series", "type": "nominal",
          "scale": {"domain": ["PNIPAM-(S-S)-dPG", "PNIPMAM-(S-S)-dPG"], "range": ["#1f5fbf", "#ff8417"]},
          "legend": {
            "title": null, "orient": "none", "legendX": 16, "legendY": -2,
            "symbolType": "stroke", "symbolSize": 1369, "symbolStrokeWidth": 2.5,
            "labelOffset": 22, "rowPadding": 5, "padding": 0, "labelLimit": 0
          }
        }
      }
    },
    {
      "data": {"name": "spectra"},
      "transform": [{"filter": "datum.series == 'PNIPAM-(S-S)-dPG'"}],
      "mark": {"type": "line", "strokeWidth": 2.5, "clip": true},
      "encoding": {
        "x": {"field": "wavenumber", "type": "quantitative"},
        "y": {"field": "intensity", "type": "quantitative"},
        "color": {"field": "series", "type": "nominal"}
      }
    },
    {
      "data": {"name": "annotation"},
      "mark": {"type": "rule", "color": "black", "strokeWidth": 2},
      "encoding": {
        "x": {"field": "wavenumber", "type": "quantitative"},
        "y": {"field": "arrowTop", "type": "quantitative"},
        "y2": {"field": "arrowBottom"}
      }
    },
    {
      "data": {"name": "annotation"},
      "mark": {"type": "point", "shape": "triangle-down", "filled": true, "color": "black", "opacity": 1, "size": 280},
      "encoding": {
        "x": {"field": "wavenumber", "type": "quantitative"},
        "y": {"field": "headY", "type": "quantitative"}
      }
    },
    {
      "data": {"name": "annotation"},
      "mark": {"type": "text", "fontSize": 29, "font": "Liberation Sans", "color": "black", "baseline": "middle", "align": "center"},
      "encoding": {
        "x": {"field": "wavenumber", "type": "quantitative"},
        "y": {"field": "textY", "type": "quantitative"},
        "text": {"field": "label"}
      }
    }
  ]
}
